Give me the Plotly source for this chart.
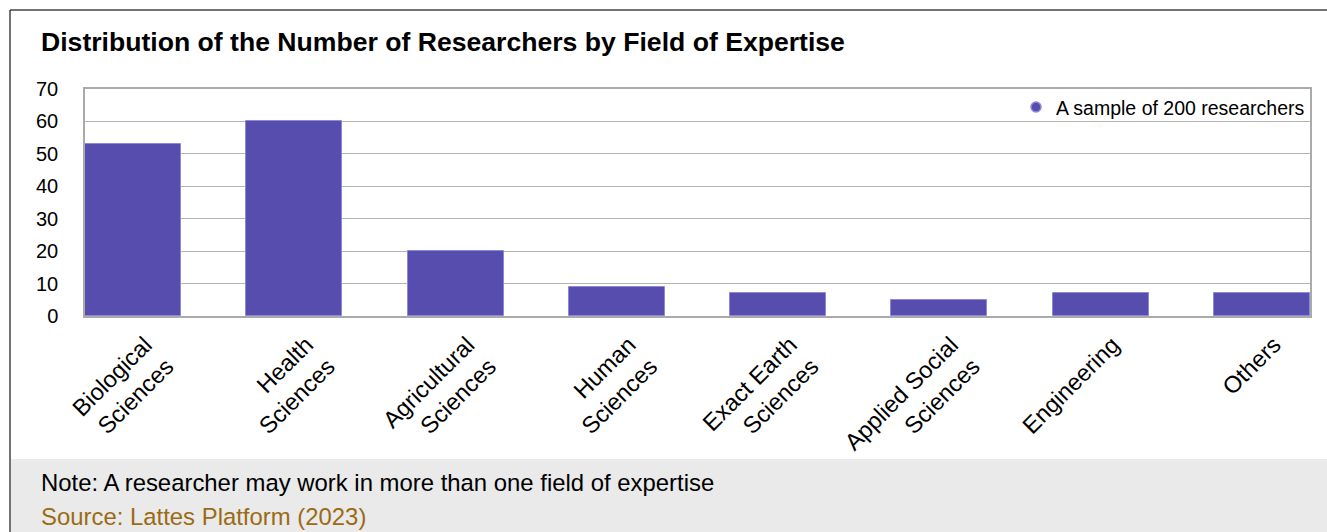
import plotly.graph_objects as go

categories = ["Biological<br>Sciences", "Health<br>Sciences", "Agricultural<br>Sciences",
              "Human<br>Sciences", "Exact Earth<br>Sciences", "Applied Social<br>Sciences",
              "Engineering", "Others"]
researchers = [53, 60, 20, 9, 7, 5, 7, 7]
y_ticks = [0, 10, 20, 30, 40, 50, 60, 70]
series_name = "A sample of 200 researchers"
title_text = "Distribution of the Number of Researchers by Field of Expertise"
note_text = "Note: A researcher may work in more than one field of expertise"
source_text = "Source: Lattes Platform (2023)"

W, H = 1327, 532
L, R, T, B = 85, 1310, 89, 316
pw, ph = R - L, B - T

def px(x):
    return (x - L) / pw

def py(y):
    return (B - y) / ph

FONT = "Liberation Sans, Arial, sans-serif"
BAR = "#574dae"
EDGE = "#8f88d6"

fig = go.Figure()
fig.add_trace(go.Bar(
    x=categories, y=researchers, width=0.596,
    marker=dict(color=BAR, line=dict(color=EDGE, width=1)),
    showlegend=False,
))
fig.add_trace(go.Scatter(
    x=[None], y=[None], mode="markers", name=series_name,
    marker=dict(symbol="circle", size=10, color=BAR, line=dict(color=EDGE, width=1.5)),
    showlegend=True,
))

fig.update_layout(
    width=W, height=H,
    margin=dict(l=L, r=W - R, t=T, b=H - B, pad=0),
    paper_bgcolor="white", plot_bgcolor="white",
    font=dict(family=FONT, size=18, color="black"),
    bargap=0,
    legend=dict(x=1.0, xanchor="right", y=1.005, yanchor="top",
                bgcolor="rgba(0,0,0,0)", font=dict(size=19.5, family=FONT),
                itemwidth=30, tracegroupgap=0),
    xaxis=dict(
        range=[-0.298, 7.298], showgrid=False, showline=True, mirror=True,
        linecolor="#aaaaaa", linewidth=1.5, tickangle=-45, ticks="",
        tickfont=dict(size=23.5, family=FONT), ticklabelshift=12, ticklabelstandoff=4,
    ),
    yaxis=dict(
        range=[0, 70], tickvals=y_ticks, showgrid=True, gridcolor="#b4b4b4",
        gridwidth=1.2, showline=True, mirror=True, linecolor="#aaaaaa", linewidth=1.5,
        ticks="", tickfont=dict(size=20, family=FONT), ticklabelstandoff=21,
        zeroline=False,
    ),
    shapes=[
        dict(type="rect", xref="paper", yref="paper", x0=px(11), x1=px(W + 5),
             y0=py(H + 5), y1=py(459), fillcolor="#e9eae9", line=dict(width=0), layer="below"),
        dict(type="line", xref="paper", yref="paper", x0=px(10), x1=px(10),
             y0=py(H + 5), y1=py(10), line=dict(color="#444444", width=1.5)),
        dict(type="line", xref="paper", yref="paper", x0=px(10), x1=px(W + 5),
             y0=py(10), y1=py(10), line=dict(color="#444444", width=1.5)),
    ],
    annotations=[
        dict(text="<b>" + title_text + "</b>", xref="paper", yref="paper",
             x=px(39), y=py(42), xanchor="left", yanchor="middle", showarrow=False,
             font=dict(size=26.6, family=FONT, color="black")),
        dict(text=note_text, xref="paper", yref="paper",
             x=px(39), y=py(482), xanchor="left", yanchor="middle", showarrow=False,
             font=dict(size=23.9, family=FONT, color="black")),
        dict(text=source_text, xref="paper", yref="paper",
             x=px(39), y=py(516), xanchor="left", yanchor="middle", showarrow=False,
             font=dict(size=23.9, family=FONT, color="#9b6b14")),
    ],
)

fig.write_html("out.html")
